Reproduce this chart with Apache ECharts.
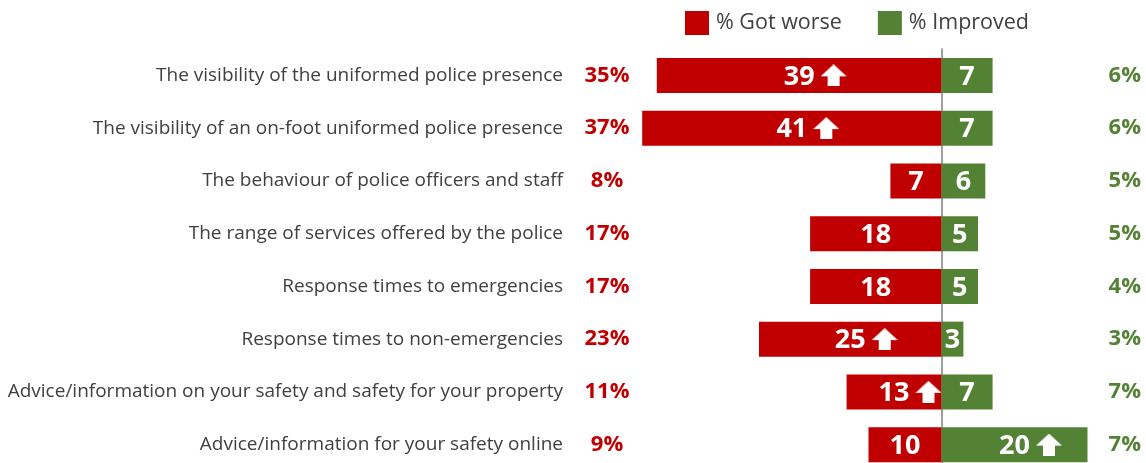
<!DOCTYPE html>
<html>
<head>
<meta charset="utf-8">
<script src="https://cdn.jsdelivr.net/npm/echarts@6/dist/echarts.min.js"></script>
<style>
  html, body { margin: 0; padding: 0; background: #fff; }
  #chart { width: 1146px; height: 463px; }
</style>
</head>
<body>
<div id="chart"></div>
<script>
// Aspects of policing, and how many said each got worse or improved
const categories = [
  'The visibility of the uniformed police presence',
  'The visibility of an on-foot uniformed police presence',
  'The behaviour of police officers and staff',
  'The range of services offered by the police',
  'Response times to emergencies',
  'Response times to non-emergencies',
  'Advice/information on your safety and safety for your property',
  'Advice/information for your safety online'
];
const gotWorse = [39, 41, 7, 18, 18, 25, 13, 10];
const improved = [7, 7, 6, 5, 5, 3, 7, 20];
// Previous wave, shown beside the bars
const prevWorse = [35, 37, 8, 17, 17, 23, 11, 9];
const prevImproved = [6, 6, 5, 5, 4, 3, 7, 7];
// Significant increase markers
const worseUp = [true, true, false, false, false, true, true, false];
const improvedUp = [false, false, false, false, false, false, false, true];

const RED = '#C00000';
const GREEN = '#548235';
const FONT = '"Open Sans", "Noto Sans", sans-serif';

// White block arrow used as an "increase" icon inside bar labels
function arrowIcon() {
  const c = document.createElement('canvas');
  c.width = 26; c.height = 22;
  const g = c.getContext('2d');
  g.fillStyle = '#ffffff';
  g.beginPath();
  g.moveTo(13, 0); g.lineTo(26, 12); g.lineTo(19, 12); g.lineTo(19, 22);
  g.lineTo(7, 22); g.lineTo(7, 12); g.lineTo(0, 12); g.closePath();
  g.fill();
  return c;
}
const ARROW = arrowIcon();

const barRich = {
  v: { color: '#fff', fontSize: 27, fontWeight: 'bold', fontFamily: FONT, padding: [3, 0, 0, 0] },
  p: { width: 32, height: 22 },
  g: { width: 6, height: 22 },
  a: { width: 26, height: 22, backgroundColor: { image: ARROW } }
};
function barLabel(flags) {
  return function (p) {
    const n = Math.abs(p.value);
    return flags[p.dataIndex] ? '{p|}{v|' + n + '}{g|}{a|}' : '{v|' + n + '}';
  };
}

const chart = echarts.init(document.getElementById('chart'));
chart.setOption({
  animation: false,
  legend: {
    top: 11,
    left: 685,
    padding: 0,
    itemWidth: 24,
    itemHeight: 24,
    itemGap: 36,
    icon: 'rect',
    textStyle: { fontFamily: FONT, fontSize: 21.5, color: '#404040', padding: [0, 0, 0, 2] },
    data: ['% Got worse', '% Improved']
  },
  grid: { left: 613, right: 22, top: 49, height: 422, outerBoundsMode: 'none' },
  xAxis: {
    type: 'value', min: -45, max: 25, show: false
  },
  yAxis: [
    {
      // centre line at zero
      type: 'category', inverse: true, data: categories,
      axisLine: { show: true, onZero: true, lineStyle: { color: '#7f7f7f', width: 1.5 } },
      axisTick: { show: false }, axisLabel: { show: false }
    },
    {
      type: 'category', inverse: true, data: categories, position: 'left',
      axisLine: { show: false }, axisTick: { show: false },
      axisLabel: { margin: 50, fontFamily: FONT, fontSize: 19, color: '#404040' }
    },
    {
      type: 'category', inverse: true, data: prevWorse, position: 'left',
      axisLine: { show: false }, axisTick: { show: false },
      axisLabel: {
        margin: 6, align: 'center', fontFamily: FONT, fontSize: 22, fontWeight: 'bold', color: RED,
        formatter: v => v + '%'
      }
    },
    {
      type: 'category', inverse: true, data: prevImproved, position: 'right',
      axisLine: { show: false }, axisTick: { show: false },
      axisLabel: {
        margin: 17, align: 'right', fontFamily: FONT, fontSize: 22, fontWeight: 'bold', color: GREEN,
        formatter: v => v + '%'
      }
    }
  ],
  series: [
    {
      name: '% Got worse', type: 'bar', stack: 'total', barWidth: 35,
      itemStyle: { color: RED },
      data: gotWorse.map(v => -v),
      label: { show: true, position: 'inside', formatter: barLabel(worseUp), rich: barRich }
    },
    {
      name: '% Improved', type: 'bar', stack: 'total', barWidth: 35,
      itemStyle: { color: GREEN },
      data: improved,
      label: { show: true, position: 'inside', formatter: barLabel(improvedUp), rich: barRich }
    }
  ]
});
</script>
</body>
</html>
